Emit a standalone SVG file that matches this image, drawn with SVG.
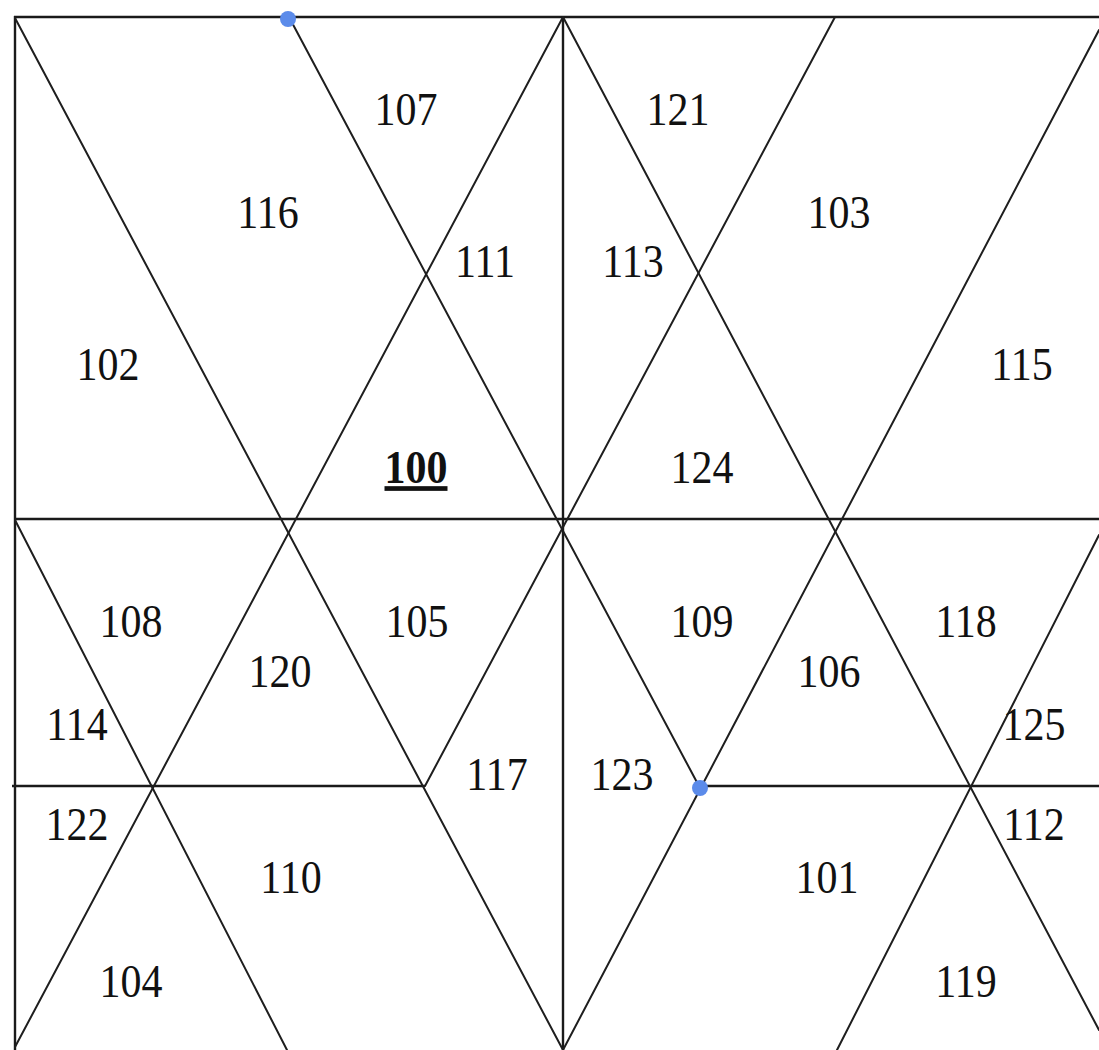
<svg xmlns="http://www.w3.org/2000/svg" width="1099" height="1050" viewBox="0 0 1099 1050">
  <style>
    .grid { stroke: #1a1a1a; stroke-width: 2.4; fill: none; stroke-linecap: butt; }
    .diag { stroke: #1e1e1e; stroke-width: 2; fill: none; stroke-linecap: round; }
    .lbl { font-family: "Liberation Serif", "Times New Roman", serif; font-size: 42px; fill: #111111; text-anchor: middle; }
    .bold { font-weight: bold; text-decoration: underline; }
    .dot { fill: #5B8BEA; }
  </style>
  <rect width="1099" height="1050" fill="#ffffff"/>

  <g id="connectors">
    <!-- frame / grid -->
    <line class="grid" x1="14" y1="17" x2="1099" y2="17"/>
    <line class="grid" x1="15" y1="16" x2="15" y2="1050"/>
    <line class="grid" x1="563" y1="17" x2="563" y2="1050"/>
    <line class="grid" x1="15" y1="519" x2="1099" y2="519"/>
    <line class="grid" x1="12" y1="786" x2="425" y2="786"/>
    <line class="grid" x1="700" y1="786" x2="1099" y2="786"/>
    <!-- diagonals -->
    <line class="diag" x1="15" y1="18" x2="563" y2="1050"/>
    <line class="diag" x1="563" y1="17" x2="15" y2="1047"/>
    <line class="diag" x1="289" y1="17" x2="700" y2="788"/>
    <line class="diag" x1="835" y1="17" x2="425" y2="786"/>
    <line class="diag" x1="563" y1="17" x2="1099" y2="1030"/>
    <line class="diag" x1="1099" y1="30" x2="563" y2="1050"/>
    <line class="diag" x1="15" y1="520" x2="287" y2="1050"/>
    <line class="diag" x1="1099" y1="535" x2="837" y2="1050"/>
  </g>

  <g id="point-top"><circle class="dot" cx="288" cy="19" r="8"/></g>
  <g id="point-bottom"><circle class="dot" cx="700" cy="788" r="8"/></g>

  <g id="n116"><text class="lbl" transform="translate(268,228) scale(1,1.12)">116</text></g>
  <g id="n107"><text class="lbl" transform="translate(406,125) scale(1,1.12)">107</text></g>
  <g id="n121"><text class="lbl" transform="translate(678,125) scale(1,1.12)">121</text></g>
  <g id="n111"><text class="lbl" transform="translate(485,277) scale(1,1.12)">111</text></g>
  <g id="n113"><text class="lbl" transform="translate(633,277) scale(1,1.12)">113</text></g>
  <g id="n103"><text class="lbl" transform="translate(839,228) scale(1,1.12)">103</text></g>
  <g id="n102"><text class="lbl" transform="translate(108,380) scale(1,1.12)">102</text></g>
  <g id="n115"><text class="lbl" transform="translate(1022,380) scale(1,1.12)">115</text></g>
  <g id="n100"><text class="lbl bold" transform="translate(416,483) scale(1,1.12)">100</text></g>
  <g id="n124"><text class="lbl" transform="translate(702,483) scale(1,1.12)">124</text></g>
  <g id="n108"><text class="lbl" transform="translate(131,637) scale(1,1.12)">108</text></g>
  <g id="n105"><text class="lbl" transform="translate(417,637) scale(1,1.12)">105</text></g>
  <g id="n109"><text class="lbl" transform="translate(702,637) scale(1,1.12)">109</text></g>
  <g id="n118"><text class="lbl" transform="translate(966,637) scale(1,1.12)">118</text></g>
  <g id="n120"><text class="lbl" transform="translate(280,687) scale(1,1.12)">120</text></g>
  <g id="n106"><text class="lbl" transform="translate(829,687) scale(1,1.12)">106</text></g>
  <g id="n114"><text class="lbl" transform="translate(77,740) scale(1,1.12)">114</text></g>
  <g id="n125"><text class="lbl" transform="translate(1034,740) scale(1,1.12)">125</text></g>
  <g id="n117"><text class="lbl" transform="translate(497,790) scale(1,1.12)">117</text></g>
  <g id="n123"><text class="lbl" transform="translate(622,790) scale(1,1.12)">123</text></g>
  <g id="n122"><text class="lbl" transform="translate(77,840) scale(1,1.12)">122</text></g>
  <g id="n112"><text class="lbl" transform="translate(1034,840) scale(1,1.12)">112</text></g>
  <g id="n110"><text class="lbl" transform="translate(291,893) scale(1,1.12)">110</text></g>
  <g id="n101"><text class="lbl" transform="translate(827,893) scale(1,1.12)">101</text></g>
  <g id="n104"><text class="lbl" transform="translate(131,997) scale(1,1.12)">104</text></g>
  <g id="n119"><text class="lbl" transform="translate(966,997) scale(1,1.12)">119</text></g>
</svg>
